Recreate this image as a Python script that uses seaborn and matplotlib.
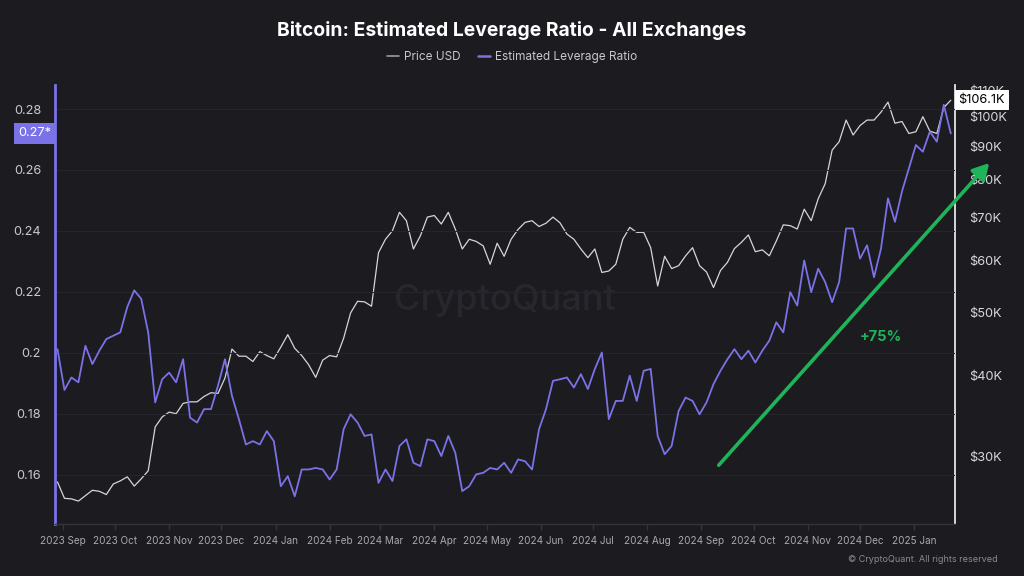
import numpy as np
import pandas as pd
import matplotlib
matplotlib.use("Agg")
import matplotlib.pyplot as plt
import matplotlib.dates as mdates
import matplotlib.ticker as mticker
import matplotlib.transforms as mtrans
from matplotlib.lines import Line2D
import seaborn as sns

# ---------------- data (one sample every 4 days) ----------------
start_date = "2023-08-29"
step = "4D"

leverage = [
    0.2012, 0.1878, 0.1919, 0.1903, 0.2023, 0.1963, 0.2007, 0.2045, 0.2056, 0.2067,
    0.2150, 0.2205, 0.2177, 0.2067, 0.1837, 0.1913, 0.1935, 0.1903, 0.1979, 0.1787,
    0.1771, 0.1815, 0.1815, 0.1892, 0.1979, 0.1859, 0.1782, 0.1699, 0.1710, 0.1699,
    0.1743, 0.1710, 0.1562,
    0.1595, 0.1529, 0.1617, 0.1617, 0.1622, 0.1617, 0.1584, 0.1617, 0.1749, 0.1798,
    0.1771, 0.1727, 0.1732, 0.1573, 0.1617, 0.1579, 0.1694, 0.1716, 0.1639, 0.1628,
    0.1716, 0.1710, 0.1661, 0.1727, 0.1672, 0.1546, 0.1562, 0.1601, 0.1606, 0.1622,
    0.1617, 0.1639,
    0.1606, 0.1650, 0.1644, 0.1617, 0.1749, 0.1815, 0.1908, 0.1913, 0.1919, 0.1886,
    0.1930, 0.1881, 0.1947, 0.2001, 0.1782, 0.1842, 0.1842, 0.1925, 0.1842, 0.1941,
    0.1947, 0.1727, 0.1667, 0.1694, 0.1809, 0.1853, 0.1842, 0.1798, 0.1837, 0.1897,
    0.1941, 0.1979,
    0.2012, 0.1979, 0.2007, 0.1968, 0.2007, 0.2040, 0.2100, 0.2067, 0.2199, 0.2155,
    0.2303, 0.2199, 0.2276, 0.2232, 0.2166, 0.2232, 0.2408, 0.2408, 0.2309, 0.2353,
    0.2248, 0.2342, 0.2507, 0.2430, 0.2529, 0.2606, 0.2682, 0.2660, 0.2726, 0.2693,
    0.2814, 0.2720,
]

price_k = [
    27.4, 25.85, 25.8, 25.6, 26.1, 26.6, 26.5, 26.2, 27.2, 27.5,
    27.9, 27.0, 27.7, 28.5, 33.3, 34.5, 35.1, 34.9, 36.2, 36.4,
    36.4, 37.1, 37.6, 37.5, 39.6, 43.9, 42.8, 42.8, 42.0, 43.5,
    42.9, 42.4, 44.2,
    46.2, 44.0, 42.9, 41.5, 39.7, 42.2, 42.9, 42.7, 45.6, 49.9,
    52.0, 51.9, 51.1, 61.8, 64.8, 66.8, 71.3, 69.2, 62.6, 65.6,
    70.1, 70.5, 68.4, 71.3, 67.2, 62.6, 64.8, 64.3, 63.3, 59.3,
    63.9, 61.0,
    64.8, 67.1, 68.8, 69.2, 67.8, 68.6, 70.1, 68.7, 66.0, 64.8,
    62.6, 60.7, 62.6, 57.6, 57.9, 59.3, 64.8, 67.6, 66.4, 66.4,
    62.9, 54.9, 61.0, 58.4, 59.0, 61.1, 62.9, 59.0, 57.7, 54.6,
    58.0, 59.7,
    62.7, 64.1, 65.8, 62.0, 62.4, 61.1, 64.4, 68.2, 68.0, 67.2,
    72.1, 69.2, 74.8, 78.9, 88.9, 91.6, 98.9, 93.8, 97.0, 98.9,
    98.9, 101.7, 105.4, 97.8, 98.4, 94.3, 94.9, 100.1, 95.1, 94.3,
    103.4, 106.1,
]

left_ticks = [0.16, 0.18, 0.20, 0.22, 0.24, 0.26, 0.28]
left_tick_labels = ["0.16", "0.18", "0.2", "0.22", "0.24", "0.26", "0.28"]
right_ticks_k = [30, 40, 50, 60, 70, 80, 90, 100, 110]
month_ticks = pd.date_range("2023-09-01", "2025-01-01", freq="MS")

title = "Bitcoin: Estimated Leverage Ratio - All Exchanges"
legend_labels = ["Price USD", "Estimated Leverage Ratio"]

# arrow annotation (data coordinates)
arrow_start = ("2024-09-11", 0.1631)
arrow_end = ("2025-02-13", 0.2623)
arrow_text_pos = ("2024-12-13", 0.2053)
arrow_text = "+75%"

dates = pd.date_range(start_date, periods=len(leverage), freq=step)
df = pd.DataFrame({"date": dates, "leverage": leverage,
                   "price": np.array(price_k) * 1000.0})

# ---------------- style ----------------
BG = "#1b1b20"
PURPLE = "#7a72e6"
WHITE_LINE = "#d6d6da"
GREEN = "#1fb35a"

sns.set_theme(style="dark", rc={
    "axes.facecolor": BG, "figure.facecolor": BG, "savefig.facecolor": BG,
    "axes.edgecolor": BG, "text.color": "white",
})
plt.rcParams["font.family"] = ["Inter", "DejaVu Sans"]

fig = plt.figure(figsize=(10.24, 5.76), dpi=100)
ax = fig.add_axes([55 / 1024, 1 - 524 / 576, 900 / 1024, 439 / 576])
ax2 = ax.twinx()
ax.set_zorder(2)
ax.patch.set_visible(False)
ax2.set_zorder(1)
ax2.set_facecolor(BG)

# watermark behind the lines
ax2.text(0.5, 0.51, "CryptoQuant", transform=ax2.transAxes, fontsize=26,
         color="#27272d", ha="center", va="center", zorder=0.5, fontweight="medium")

sns.lineplot(data=df, x="date", y="price", ax=ax2, color=WHITE_LINE,
             linewidth=0.9, legend=False)
sns.lineplot(data=df, x="date", y="leverage", ax=ax, color=PURPLE,
             linewidth=1.3, legend=False)

# left axis
ax.set_ylim(0.1438, 0.2879)
ax.set_yticks(left_ticks)
ax.set_yticklabels(left_tick_labels)
ax.grid(axis="y", color="#25252b", linewidth=0.8)
ax.grid(axis="x", visible=False)
ax.set_xlabel("")
ax.set_ylabel("")

# right axis (log)
ax2.set_yscale("log")
ax2.set_ylim(23600, 112000)
ax2.yaxis.set_major_locator(mticker.FixedLocator([v * 1000 for v in right_ticks_k]))
ax2.yaxis.set_minor_locator(mticker.NullLocator())
ax2.yaxis.set_major_formatter(mticker.FuncFormatter(lambda v, p: f"${int(round(v / 1000))}K"))
ax2.set_ylabel("")
ax2.grid(False)

# x axis
ax.set_xlim(pd.Timestamp("2023-08-27 14:00"), pd.Timestamp("2025-01-24 10:00"))
ax.set_xticks(month_ticks)
ax.set_xticklabels([d.strftime("%Y %b") for d in month_ticks])

for s in ["top", "right"]:
    ax.spines[s].set_visible(False)
ax.spines["left"].set_color(PURPLE)
ax.spines["left"].set_linewidth(2)
ax.spines["bottom"].set_color("#34343b")
ax.spines["bottom"].set_linewidth(1)
for s in ["top", "left", "bottom"]:
    ax2.spines[s].set_visible(False)
ax2.spines["right"].set_color("#e6e6e8")
ax2.spines["right"].set_linewidth(1.3)

ax.tick_params(axis="x", length=4, width=1, color="#34343b", labelcolor="#a8a8b0",
               labelsize=7.2, pad=5, bottom=True)
ax.tick_params(axis="y", length=0, pad=10, labelcolor="#c8c8d0", labelsize=9.2)
ax2.tick_params(axis="y", length=0, pad=10, labelcolor="#d8d8dc", labelsize=9.2)

# current value labels
tl = mtrans.blended_transform_factory(ax.transAxes, ax.transData)
ax.text(-0.004, leverage[-1], f"{leverage[-1]:.2f}*", transform=tl, ha="right",
        va="center", color="white", fontsize=9.2,
        bbox=dict(boxstyle="square,pad=0.35", fc=PURPLE, ec="none"))
tr = mtrans.blended_transform_factory(ax2.transAxes, ax2.transData)
ax2.text(1.004, price_k[-1] * 1000, f"${price_k[-1]:.1f}K", transform=tr, ha="left",
         va="center", color="black", fontsize=9.2, zorder=5,
         bbox=dict(boxstyle="square,pad=0.3", fc="white", ec="none"))

# green arrow and label
ax.annotate("", xy=(mdates.date2num(pd.Timestamp(arrow_end[0])), arrow_end[1]),
            xytext=(mdates.date2num(pd.Timestamp(arrow_start[0])), arrow_start[1]),
            arrowprops=dict(arrowstyle="-|>,head_length=0.8,head_width=0.45",
                            color=GREEN, lw=2.6, shrinkA=0, shrinkB=0),
            annotation_clip=False)
ax.text(mdates.date2num(pd.Timestamp(arrow_text_pos[0])), arrow_text_pos[1], arrow_text,
        color=GREEN, fontsize=10.5, fontweight="bold", ha="center", va="center")

# title, legend, footer
fig.text(0.5, 1 - 30 / 576, title, ha="center", va="center", fontsize=13.9,
         fontweight="bold", color="white")
handles = [Line2D([], [], color="#9a9aa0", lw=1.2), Line2D([], [], color=PURPLE, lw=1.8)]
fig.legend(handles, legend_labels, loc="center", bbox_to_anchor=(0.5, 1 - 57 / 576),
           ncol=2, frameon=False, fontsize=8.5, labelcolor="#c8c8cc", handlelength=1.0,
           handletextpad=0.4, columnspacing=1.5)
fig.text(998 / 1024, 1 - 559 / 576, "\u00a9 CryptoQuant. All rights reserved", ha="right",
         va="center", fontsize=6.5, color="#8a8a92")

fig.savefig("out.png", dpi=100, facecolor=BG)
